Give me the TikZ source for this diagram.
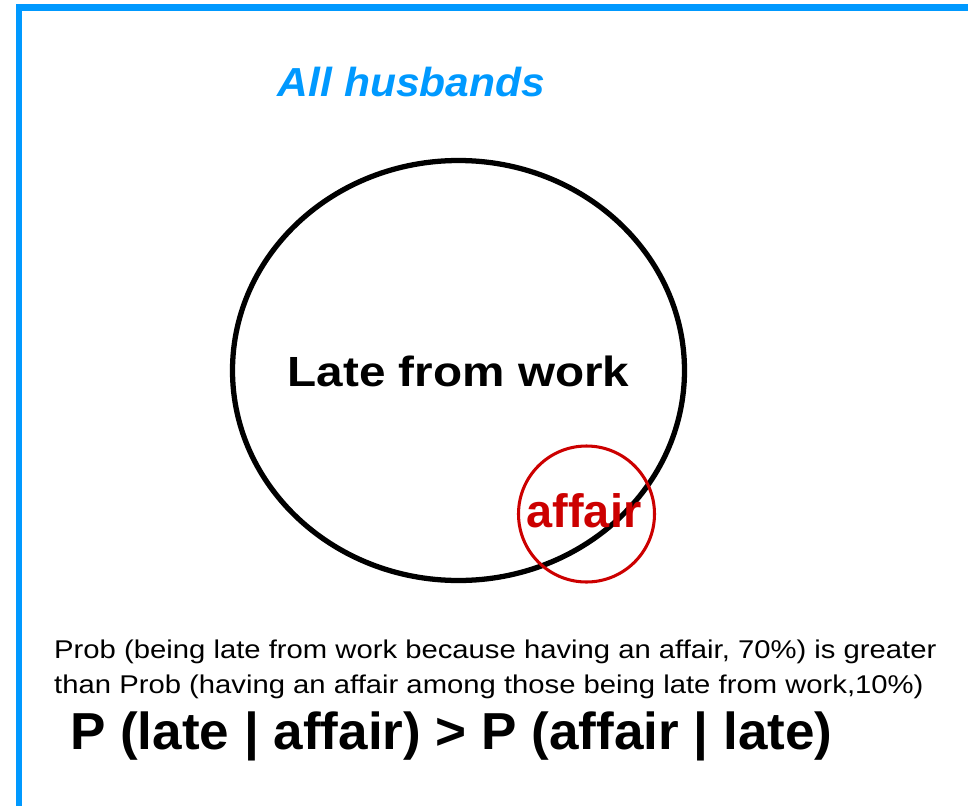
\documentclass[tikz,border=0pt]{standalone}
\usepackage{fontspec}
\setmainfont{Liberation Sans}
\usepackage{graphicx}
\usetikzlibrary{positioning}
\definecolor{frameBlue}{RGB}{0,153,255}
\definecolor{affairRed}{RGB}{204,0,0}

\begin{document}
\begin{tikzpicture}[x=0.03cm,y=-0.03cm,
    lbl/.style={inner sep=0pt,anchor=base},
    note/.style={inner sep=0pt,anchor=base west,font=\fontsize{21.9}{26}\selectfont}]

    \useasboundingbox (0,0) rectangle (968,806);

    % cadre
    \fill[frameBlue] (16,4) rectangle (968,11);
    \fill[frameBlue] (16,4) rectangle (22,806);

    % titre
    \node[lbl,frameBlue,font=\fontsize{34.6}{40}\selectfont\bfseries\itshape]
      (titre) at (411.5,96) {\scalebox{1.05}[1]{All husbands}};

    % ensembles
    \draw[line width=4.5pt] (458.5,370.5) ellipse (226 and 210);
    \coordinate (lateC) at (458.5,386);
    \node[lbl,font=\fontsize{36}{42}\selectfont\bfseries]
      (late) at (lateC) {\scalebox{1.13}[1]{Late from work}};
    \draw[affairRed,line width=2.6pt] (586.5,514) circle (68);
    \node[lbl,affairRed,font=\fontsize{40}{48}\selectfont\bfseries]
      (affair) at (584,527) {affair};

    % texte
    \node[note] (prob1) at (54,658)
      {\scalebox{1.14}[1]{Prob (being late from work because having an affair, 70\%) is greater}};
    \node[note] (prob2) at (54,693)
      {\scalebox{1.14}[1]{than Prob (having an affair among those being late from work,10\%)}};
    \node[lbl,anchor=base west,font=\fontsize{44.4}{52}\selectfont\bfseries]
      (formule) at (70,749) {\scalebox{1.02}[1]{P (late | affair) > P (affair | late)}};

\end{tikzpicture}
\end{document}
